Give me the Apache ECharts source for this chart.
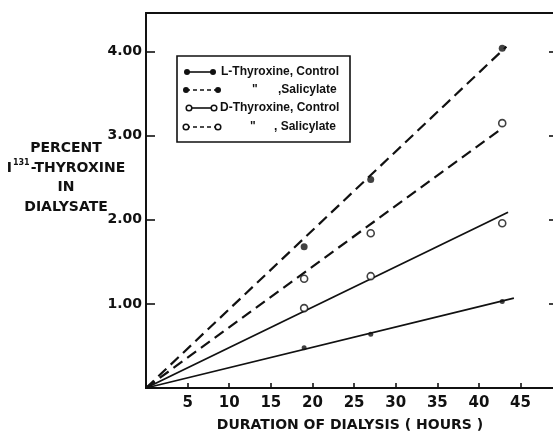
<!DOCTYPE html>
<html>
<head>
<meta charset="utf-8">
<script src="https://cdn.jsdelivr.net/npm/echarts@6/dist/echarts.min.js"></script>
<style>
	html, body { margin: 0; padding: 0; background: #fff; }
	#chart { width: 553px; height: 433px; }
</style>
</head>
<body>
<div id="chart"></div>
<script>
	// measured points (hours, percent)
	var hours = [19, 27, 42.8];
	var lControl = [0.48, 0.64, 1.03];
	var lSalicylate = [1.68, 2.48, 4.04];
	var dControl = [0.95, 1.33, 1.96];
	var dSalicylate = [1.30, 1.84, 3.15];

	// fitted lines through origin: [x end, y end]
	var lControlFit = [44.2, 1.07];
	var lSalicylateFit = [43.3, 4.06];
	var dControlFit = [43.5, 2.09];
	var dSalicylateFit = [42.8, 3.09];

	var xTicks = [5, 10, 15, 20, 25, 30, 35, 40, 45];
	var yTicks = ['1.00', '2.00', '3.00', '4.00'];

	var FONT = 'DejaVu Sans';
	var LFONT = 'Liberation Sans';
	var INK = '#111';

	function pts(ys) {
		var out = [];
		for(var i = 0; i < hours.length; i++) {
			out.push([hours[i], ys[i]]);
		}
		return out;
	}

	function fitLine(name, end, dashed) {
		return {
			name: name,
			type: 'line',
			data: [[0, 0], end],
			symbol: 'none',
			silent: true,
			lineStyle: {
				color: INK,
				width: dashed ? 2.2 : 1.8,
				type: dashed ? [11, 6] : 'solid'
			},
			z: 2
		};
	}

	function dots(name, ys, open, size) {
		return {
			name: name,
			type: 'scatter',
			data: pts(ys),
			symbol: 'circle',
			symbolSize: size,
			itemStyle: open ? {
				color: '#fff',
				borderColor: INK,
				borderWidth: 1.6
			} : {
				color: INK
			},
			z: 3
		};
	}

	// legend drawn by hand (line with marker on both ends)
	function legendRow(y, x1, x2, dashed, open, label1, label2) {
		var els = [];
		els.push({
			type: 'line',
			shape: { x1: x1, y1: y, x2: x2, y2: y },
			style: { stroke: INK, lineWidth: 1.6, lineDash: dashed ? [4, 3] : null }
		});
		[x1, x2].forEach(function(cx) {
			els.push({
				type: 'circle',
				shape: { cx: cx, cy: y, r: open ? 2.8 : 3 },
				style: open ? { fill: '#fff', stroke: INK, lineWidth: 1.5 } : { fill: INK }
			});
		});
		[label1, label2].forEach(function(lb) {
			if(lb) {
				els.push({
					type: 'text',
					style: { x: lb[0], y: y, text: lb[1], fill: INK, font: 'bold 12px ' + LFONT, verticalAlign: 'middle' }
				});
			}
		});
		return els;
	}

	var graphics = [{
		type: 'rect',
		shape: { x: 177, y: 56, width: 173, height: 86 },
		style: { fill: '#fff', stroke: INK, lineWidth: 1.6 },
		z: 10
	}];
	graphics = graphics
		.concat(legendRow(72, 187, 213, false, false, [221, 'L-Thyroxine, Control']))
		.concat(legendRow(90, 186, 218, true, false, [252, '"'], [278, ',Salicylate']))
		.concat(legendRow(108, 189, 214, false, true, [220, 'D-Thyroxine, Control']))
		.concat(legendRow(127, 186, 218, true, true, [250, '"'], [274, ', Salicylate']));
	graphics.forEach(function(g, i) {
		if(i > 0) g.z = 11;
	});

	// y axis title
	graphics.push({
		type: 'text',
		z: 11,
		style: {
			x: 66,
			y: 178,
			text: 'PERCENT\n{s|I}{sup|131}{s|-THYROXINE}\nIN\nDIALYSATE',
			align: 'center',
			verticalAlign: 'middle',
			fill: INK,
			font: 'bold 14px ' + FONT,
			lineHeight: 19.5,
			rich: {
				s: { font: 'bold 14px ' + FONT, fill: INK, lineHeight: 19.5 },
				sup: { font: 'bold 8px ' + FONT, fill: INK, verticalAlign: 'top', padding: [0, 1, 7, 1] }
			}
		}
	});
	graphics.push({
		type: 'text',
		z: 11,
		style: {
			x: 350,
			y: 425,
			text: 'DURATION OF DIALYSIS ( HOURS )',
			align: 'center',
			verticalAlign: 'middle',
			fill: INK,
			font: 'bold 14px ' + FONT
		}
	});

	var chart = echarts.init(document.getElementById('chart'), null, { renderer: 'canvas' });
	var option = {
		backgroundColor: '#fff',
		animation: false,
		grid: {
			left: 146,
			top: 13,
			width: 412,
			height: 375,
			outerBoundsMode: 'none',
			containLabel: false,
			show: true,
			borderColor: INK,
			borderWidth: 1.8
		},
		xAxis: [{
			type: 'value',
			min: 0,
			max: 49.5,
			interval: 5,
			splitLine: { show: false },
			axisLine: { lineStyle: { color: INK, width: 2 } },
			axisTick: { inside: true, length: 5, lineStyle: { color: INK, width: 1.6 } },
			axisLabel: {
				color: INK,
				fontFamily: FONT,
				fontWeight: 'bold',
				fontSize: 15,
				margin: 8,
				formatter: function(v) {
					return xTicks.indexOf(v) >= 0 ? String(v) : '';
				}
			}
		}],
		yAxis: [{
			type: 'value',
			min: 0,
			max: 4.46,
			interval: 1,
			splitLine: { show: false },
			axisLine: { lineStyle: { color: INK, width: 1.8 } },
			axisTick: { inside: true, length: 9, lineStyle: { color: INK, width: 1.6 } },
			axisLabel: {
				color: INK,
				fontFamily: FONT,
				fontWeight: 'bold',
				fontSize: 14,
				margin: 4,
				formatter: function(v) {
					return (v >= 1 && v <= 4) ? yTicks[v - 1] : '';
				}
			}
		}, {
			type: 'value',
			position: 'right',
			min: 0,
			max: 4.46,
			interval: 1,
			splitLine: { show: false },
			axisLine: { show: true, lineStyle: { color: INK, width: 1.8 } },
			axisTick: { inside: true, length: 9, lineStyle: { color: INK, width: 1.6 } },
			axisLabel: { show: false }
		}],
		series: [
			fitLine('L-Thyroxine, Control fit', lControlFit, false),
			fitLine('L-Thyroxine, Salicylate fit', lSalicylateFit, true),
			fitLine('D-Thyroxine, Control fit', dControlFit, false),
			fitLine('D-Thyroxine, Salicylate fit', dSalicylateFit, true),
			dots('L-Thyroxine, Control', lControl, false, 5),
			dots('L-Thyroxine, Salicylate', lSalicylate, false, 7),
			dots('D-Thyroxine, Control', dControl, true, 7),
			dots('D-Thyroxine, Salicylate', dSalicylate, true, 7)
		],
		graphic: graphics
	};
	chart.setOption(option);
</script>
</body>
</html>
